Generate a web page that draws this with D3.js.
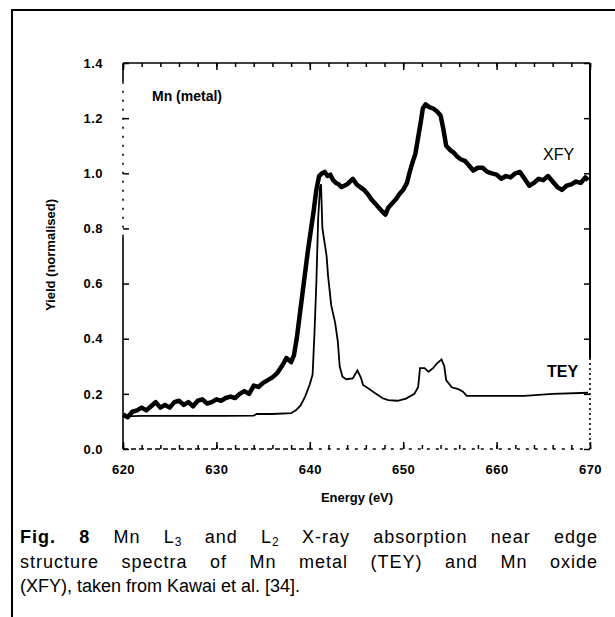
<!DOCTYPE html>
<html>
<head>
<meta charset="utf-8">
<script src="https://cdn.jsdelivr.net/npm/d3@7/dist/d3.min.js"></script>
<style>
  body { margin: 0; background: #fff; }
  #wrap { position: relative; width: 615px; height: 617px; overflow: hidden; }
  svg { position: absolute; left: 0; top: 0; }
  .cap { position: absolute; left: 20px; width: 578px; font-family: "Liberation Sans", Arial, sans-serif;
         font-size: 18px; line-height: 20px; color: #000; }
  .just { text-align: justify; text-align-last: justify; letter-spacing: 1px; }
  .cap sub { font-size: 12px; vertical-align: -3px; line-height: 0; letter-spacing: 0; }
</style>
</head>
<body>
<div id="wrap">
  <svg id="chart" width="615" height="617"></svg>
  <div class="cap just" style="top:527px"><b>Fig. 8</b> Mn L<sub>3</sub> and L<sub>2</sub> X-ray absorption near edge</div>
  <div class="cap just" style="top:552px">structure spectra of Mn metal (TEY) and Mn oxide</div>
  <div class="cap" style="top:576px">(XFY), taken from Kawai et al. [34].</div>
</div>
<script>
// XFY (Mn oxide) - thick noisy trace
var xfyEnergy = [620.0,620.5,621.0,621.5,622.0,622.5,623.0,623.5,624.0,624.5,625.0,625.5,626.0,626.5,627.0,627.5,628.0,628.5,629.0,629.5,
  630.0,630.5,631.0,631.5,632.0,632.5,633.0,633.5,634.0,634.5,635.0,635.5,636.0,636.5,637.0,637.5,638.0,638.3,638.6,638.9,
  639.2,639.5,639.8,640.1,640.4,640.7,641.0,641.3,641.6,641.9,642.2,642.5,642.8,643.1,643.4,643.7,644.0,644.3,644.6,645.0,
  645.4,645.8,646.2,646.6,647.0,647.4,647.8,648.1,648.4,648.8,649.2,649.6,650.0,650.4,650.7,651.0,651.3,651.6,651.9,652.1,
  652.4,652.8,653.2,653.6,654.0,654.3,654.6,655.0,655.4,655.8,656.2,656.6,657.0,657.5,658.0,658.5,659.0,659.5,660.0,660.5,
  661.0,661.5,662.0,662.5,663.0,663.5,664.0,664.5,665.0,665.5,666.0,666.5,667.0,667.5,668.0,668.5,669.0,669.5,669.8];
var xfyYield = [0.125,0.115,0.135,0.140,0.150,0.140,0.155,0.170,0.150,0.160,0.150,0.170,0.175,0.160,0.170,0.155,0.175,0.180,0.165,0.170,
  0.180,0.175,0.185,0.190,0.185,0.200,0.210,0.200,0.230,0.225,0.240,0.250,0.260,0.275,0.300,0.330,0.315,0.340,0.400,0.480,
  0.560,0.640,0.720,0.790,0.860,0.940,0.990,1.000,1.005,0.990,0.995,0.975,0.965,0.960,0.950,0.955,0.960,0.970,0.980,0.960,
  0.950,0.940,0.925,0.905,0.890,0.875,0.860,0.850,0.875,0.890,0.905,0.925,0.940,0.965,1.005,1.040,1.070,1.130,1.190,1.235,
  1.250,1.240,1.235,1.225,1.210,1.160,1.100,1.085,1.075,1.060,1.050,1.045,1.030,1.010,1.020,1.020,1.005,1.000,0.995,0.980,
  0.990,0.985,1.000,1.005,0.980,0.955,0.965,0.980,0.975,0.990,0.970,0.950,0.940,0.955,0.960,0.970,0.965,0.985,0.975];

// TEY (Mn metal) - thin trace
var teyEnergy = [620.0,622.0,625.0,628.0,631.0,634.0,634.3,636.0,638.0,638.5,639.0,639.5,640.0,640.3,640.5,640.7,640.9,641.1,641.2,641.35,
  641.8,641.95,642.3,642.7,643.0,643.2,643.5,643.9,644.6,645.1,645.5,645.7,646.4,647.1,647.8,648.4,649.4,650.3,651.2,651.6,
  651.8,652.3,652.7,653.2,653.6,654.1,654.4,654.6,655.2,655.9,656.4,656.8,660.0,663.0,666.0,669.8];
var teyYield = [0.118,0.120,0.120,0.120,0.120,0.121,0.127,0.127,0.130,0.140,0.157,0.190,0.235,0.270,0.420,0.600,0.840,0.950,0.960,0.800,
  0.700,0.630,0.520,0.460,0.390,0.300,0.262,0.253,0.256,0.285,0.256,0.232,0.217,0.200,0.184,0.177,0.175,0.183,0.200,0.225,
  0.293,0.293,0.280,0.293,0.310,0.325,0.300,0.250,0.224,0.217,0.208,0.193,0.193,0.193,0.200,0.204];

var xMajor = [620, 630, 640, 650, 660, 670];
var xLabels = ["620", "630", "640", "650", "660", "670"];
var yMajor = [0, 0.2, 0.4, 0.6, 0.8, 1.0, 1.2, 1.4];
var yLabels = ["0.0", "0.2", "0.4", "0.6", "0.8", "1.0", "1.2", "1.4"];

var svg = d3.select("#chart");
var font = "'Liberation Sans', Arial, sans-serif";

var x = d3.scaleLinear().domain([620, 670]).range([123, 590]);
var y = d3.scaleLinear().domain([0, 1.4]).range([449, 63]);

// outer frame of the figure box
svg.append("path").attr("d", "M12,617V10H615")
  .attr("fill", "none").attr("stroke", "#000").attr("stroke-width", 2);

// axis frame (scan looks patchy, so some sides are dashed)
function seg(x1, y1, x2, y2, dash, w) {
  svg.append("line").attr("x1", x1).attr("y1", y1).attr("x2", x2).attr("y2", y2)
    .attr("stroke", "#000").attr("stroke-width", w || 1.6)
    .attr("stroke-dasharray", dash || null);
}
seg(x(620), y(1.4), x(670), y(1.4));                       // top
seg(x(620), y(0), x(620), y(0.77));                        // left solid
seg(x(620), y(0.77), x(620), y(1.33), "2,7");             // left patchy
seg(x(620), y(1.33), x(620), y(1.4));
seg(x(670), y(1.4), x(670), y(0.33), null, 2);             // right solid
seg(x(670), y(0.33), x(670), y(0), "2,3", 1.6);            // right dotted
seg(x(620), y(0), x(640), y(0), "5,3", 1.6);               // bottom
seg(x(640), y(0), x(670), y(0), "3,6", 1.4);

// ticks via d3 axes, domains removed
var minorX = d3.range(620, 671, 2);
var gB = svg.append("g").attr("transform", "translate(0," + y(0) + ")")
  .call(d3.axisBottom(x).tickValues(minorX).tickSize(-4).tickFormat(""));
var gB2 = svg.append("g").attr("transform", "translate(0," + y(0) + ")")
  .call(d3.axisBottom(x).tickValues(xMajor).tickSize(-7).tickPadding(16)
    .tickFormat(function(d, i) { return xLabels[i]; }));
var gT = svg.append("g").attr("transform", "translate(0," + y(1.4) + ")")
  .call(d3.axisTop(x).tickValues(minorX).tickSize(-4).tickFormat(""));
var gT2 = svg.append("g").attr("transform", "translate(0," + y(1.4) + ")")
  .call(d3.axisTop(x).tickValues(xMajor).tickSize(-7).tickFormat(""));
var gL = svg.append("g").attr("transform", "translate(" + x(620) + ",0)")
  .call(d3.axisLeft(y).tickValues(yMajor).tickSize(-6).tickPadding(20)
    .tickFormat(function(d, i) { return yLabels[i]; }));
var gR = svg.append("g").attr("transform", "translate(" + x(670) + ",0)")
  .call(d3.axisRight(y).tickValues(yMajor).tickSize(-6).tickFormat(""));

[gB, gB2, gT, gT2, gL, gR].forEach(function(g) {
  g.select(".domain").remove();
  g.selectAll(".tick line").attr("stroke", "#000").attr("stroke-width", 1.5);
  g.selectAll("text").attr("fill", "#000").attr("font-family", font)
    .attr("font-size", 13).attr("font-weight", "bold").attr("letter-spacing", 0.5);
});

// curves
var line = d3.line().x(function(d) { return x(d[0]); }).y(function(d) { return y(d[1]); });
var tey = d3.zip(teyEnergy, teyYield);
var xfy = d3.zip(xfyEnergy, xfyYield);

svg.append("path").datum(tey).attr("d", line)
  .attr("fill", "none").attr("stroke", "#000").attr("stroke-width", 1.8)
  .attr("stroke-linejoin", "miter");
svg.append("path").datum(xfy).attr("d", line)
  .attr("fill", "none").attr("stroke", "#000").attr("stroke-width", 4.5)
  .attr("stroke-linejoin", "round");

// labels
function txt(tx, ty, s, size, weight, anchor) {
  return svg.append("text").attr("x", tx).attr("y", ty).text(s)
    .attr("font-family", font).attr("font-size", size)
    .attr("font-weight", weight).attr("text-anchor", anchor || "start").attr("fill", "#000");
}
txt(152, 101, "Mn (metal)", 14, "bold");
txt(543, 160, "XFY", 16, "normal");
txt(547, 377, "TEY", 16, "bold");
txt(357, 502, "Energy (eV)", 13, "bold", "middle");
txt(0, 0, "Yield (normalised)", 13, "bold", "middle")
  .attr("transform", "translate(55,255) rotate(-90)");
</script>
</body>
</html>
